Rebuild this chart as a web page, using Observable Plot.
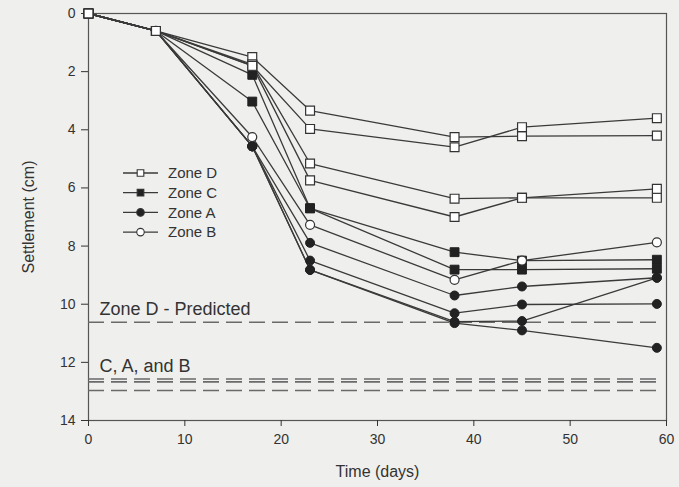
<!DOCTYPE html>
<html>
<head>
<meta charset="utf-8">
<script src="https://cdn.jsdelivr.net/npm/d3@7"></script>
<script src="https://cdn.jsdelivr.net/npm/@observablehq/plot@0.6"></script>
<style>
  html, body { margin: 0; padding: 0; background: #efefed; }
  #chart { width: 679px; height: 487px; }
</style>
</head>
<body>
<div id="chart"></div>
<script>
// ---- data ----
const days = [0, 7, 17, 23, 38, 45, 59];

const zoneD1 = [0, 0.6, 1.5, 3.34, 4.25, 4.22, 4.2];
const zoneD2 = [0, 0.6, 1.79, 3.97, 4.6, 3.91, 3.6];
const zoneD3 = [0, 0.6, 1.75, 5.16, 6.37, 6.34, 6.34];
const zoneD4 = [0, 0.6, 1.8, 5.74, 7.0, 6.34, 6.03];

const zoneC1 = [0, 0.6, 2.11, 6.7, 8.21, 8.5, 8.47];
const zoneC2 = [0, 0.6, 3.03, 6.7, 8.81, 8.81, 8.78];

const zoneA1 = [0, 0.6, 4.57, 7.89, 9.7, 9.39, 9.09];
const zoneA2 = [0, 0.6, 4.57, 8.5, 10.31, 10.01, 9.99];
const zoneA3 = [0, 0.6, 4.57, 8.82, 10.6, 10.58, 9.09];
const zoneA4 = [0, 0.6, 4.57, 8.82, 10.65, 10.9, 11.5];

const zoneB1 = [0, 0.6, 4.25, 7.27, 9.16, 8.5, 7.87];

// predicted settlement levels (dashed lines)
const predictedLevels = [10.62, 12.57, 12.67, 12.97];
const predictedStart = 0;
const predictedEnd = 59.6;
const predictedLabels = ["Zone D - Predicted", "C, A, and B"];
const predictedLabelLevels = [10.62, 12.57];

const xTicks = [0, 10, 20, 30, 40, 50, 60];
const yTicks = [0, 2, 4, 6, 8, 10, 12, 14];
const legendZones = ["Zone D", "Zone C", "Zone A", "Zone B"];

// ---- build tables ----
const seriesList = [
  {name: "D1", zone: "D", vals: zoneD1},
  {name: "D2", zone: "D", vals: zoneD2},
  {name: "D3", zone: "D", vals: zoneD3},
  {name: "D4", zone: "D", vals: zoneD4},
  {name: "C1", zone: "C", vals: zoneC1},
  {name: "C2", zone: "C", vals: zoneC2},
  {name: "A1", zone: "A", vals: zoneA1},
  {name: "A2", zone: "A", vals: zoneA2},
  {name: "A3", zone: "A", vals: zoneA3},
  {name: "A4", zone: "A", vals: zoneA4},
  {name: "B1", zone: "B", vals: zoneB1}
];
const rows = seriesList.flatMap(s => days.map((d, i) => ({day: d, v: s.vals[i], series: s.name, zone: s.zone})));
const predicted = predictedLevels.map(v => ({v, x1: predictedStart, x2: predictedEnd}));
const labelRows = predictedLabels.map((t, i) => ({text: t, v: predictedLabelLevels[i], x: predictedStart}));

const ink = "#333";
const font = "'Liberation Sans', Arial, Helvetica, sans-serif";

const chart = Plot.plot({
  width: 679,
  height: 487,
  marginLeft: 88,
  marginRight: 13,
  marginTop: 13,
  marginBottom: 67,
  style: {background: "transparent", fontFamily: font, fontSize: "14px", color: ink},
  x: {domain: [0, 60]},
  y: {domain: [0, 14], reverse: true},
  marks: [
    Plot.frame({stroke: "#555", strokeWidth: 1.2}),
    Plot.axisX({ticks: xTicks, tickSize: 6, tickPadding: 8, fontSize: 14, label: "Time (days)", labelAnchor: "center", labelOffset: 56, labelArrow: "none"}),
    Plot.axisY({ticks: yTicks, tickSize: 7, tickPadding: 6, fontSize: 14, label: "Settlement (cm)", labelAnchor: "center", labelOffset: 66, labelArrow: "none"}),
    Plot.ruleY(predicted, {y: "v", x1: "x1", x2: "x2", stroke: "#6a6a6a", strokeWidth: 1.6, strokeDasharray: "16,7"}),
    Plot.text(labelRows, {x: "x", y: "v", text: "text", textAnchor: "start", lineAnchor: "bottom", dx: 11, dy: -7, fontSize: 18, fill: ink}),
    Plot.line(rows, {x: "day", y: "v", z: "series", stroke: "#3a3a3a", strokeWidth: 1.3}),
    Plot.dot(rows.filter(d => d.zone === "C"), {x: "day", y: "v", symbol: "square", r: 5, fill: "#222", stroke: "#222", strokeWidth: 1}),
    Plot.dot(rows.filter(d => d.zone === "A"), {x: "day", y: "v", symbol: "circle", r: 4.5, fill: "#222", stroke: "#222", strokeWidth: 1}),
    Plot.dot(rows.filter(d => d.zone === "B"), {x: "day", y: "v", symbol: "circle", r: 4.5, fill: "white", stroke: "#333", strokeWidth: 1.2}),
    Plot.dot(rows.filter(d => d.zone === "D"), {x: "day", y: "v", symbol: "square", r: 5, fill: "white", stroke: "#333", strokeWidth: 1.2})
  ]
});

document.getElementById("chart").appendChild(chart);

// axis label sizes
const svg = d3.select(chart);
svg.selectAll('[aria-label="x-axis label"] text, [aria-label="y-axis label"] text').style("font-size", "16px");

// ---- legend (inside plot area, top-left) ----
const legendStyle = {
  "Zone D": {shape: d3.symbolSquare, fill: "white"},
  "Zone C": {shape: d3.symbolSquare, fill: "#222"},
  "Zone A": {shape: d3.symbolCircle, fill: "#222"},
  "Zone B": {shape: d3.symbolCircle, fill: "white"}
};
const lg = svg.append("g").attr("transform", "translate(123,173)")
  .attr("font-family", font).attr("text-anchor", "start");
legendZones.forEach((z, i) => {
  const g = lg.append("g").attr("transform", `translate(0,${i * 19.7})`);
  g.append("line").attr("x1", 0).attr("x2", 35).attr("stroke", "#3a3a3a").attr("stroke-width", 1.3);
  g.append("path").attr("transform", "translate(17.5,0)")
    .attr("d", d3.symbol(legendStyle[z].shape, Math.PI * 14)())
    .attr("fill", legendStyle[z].fill).attr("stroke", "#333").attr("stroke-width", 1.1);
  g.append("text").attr("x", 45).attr("dy", "0.35em").attr("text-anchor", "start")
    .attr("font-size", 15).attr("fill", ink).text(z);
});
</script>
</body>
</html>
